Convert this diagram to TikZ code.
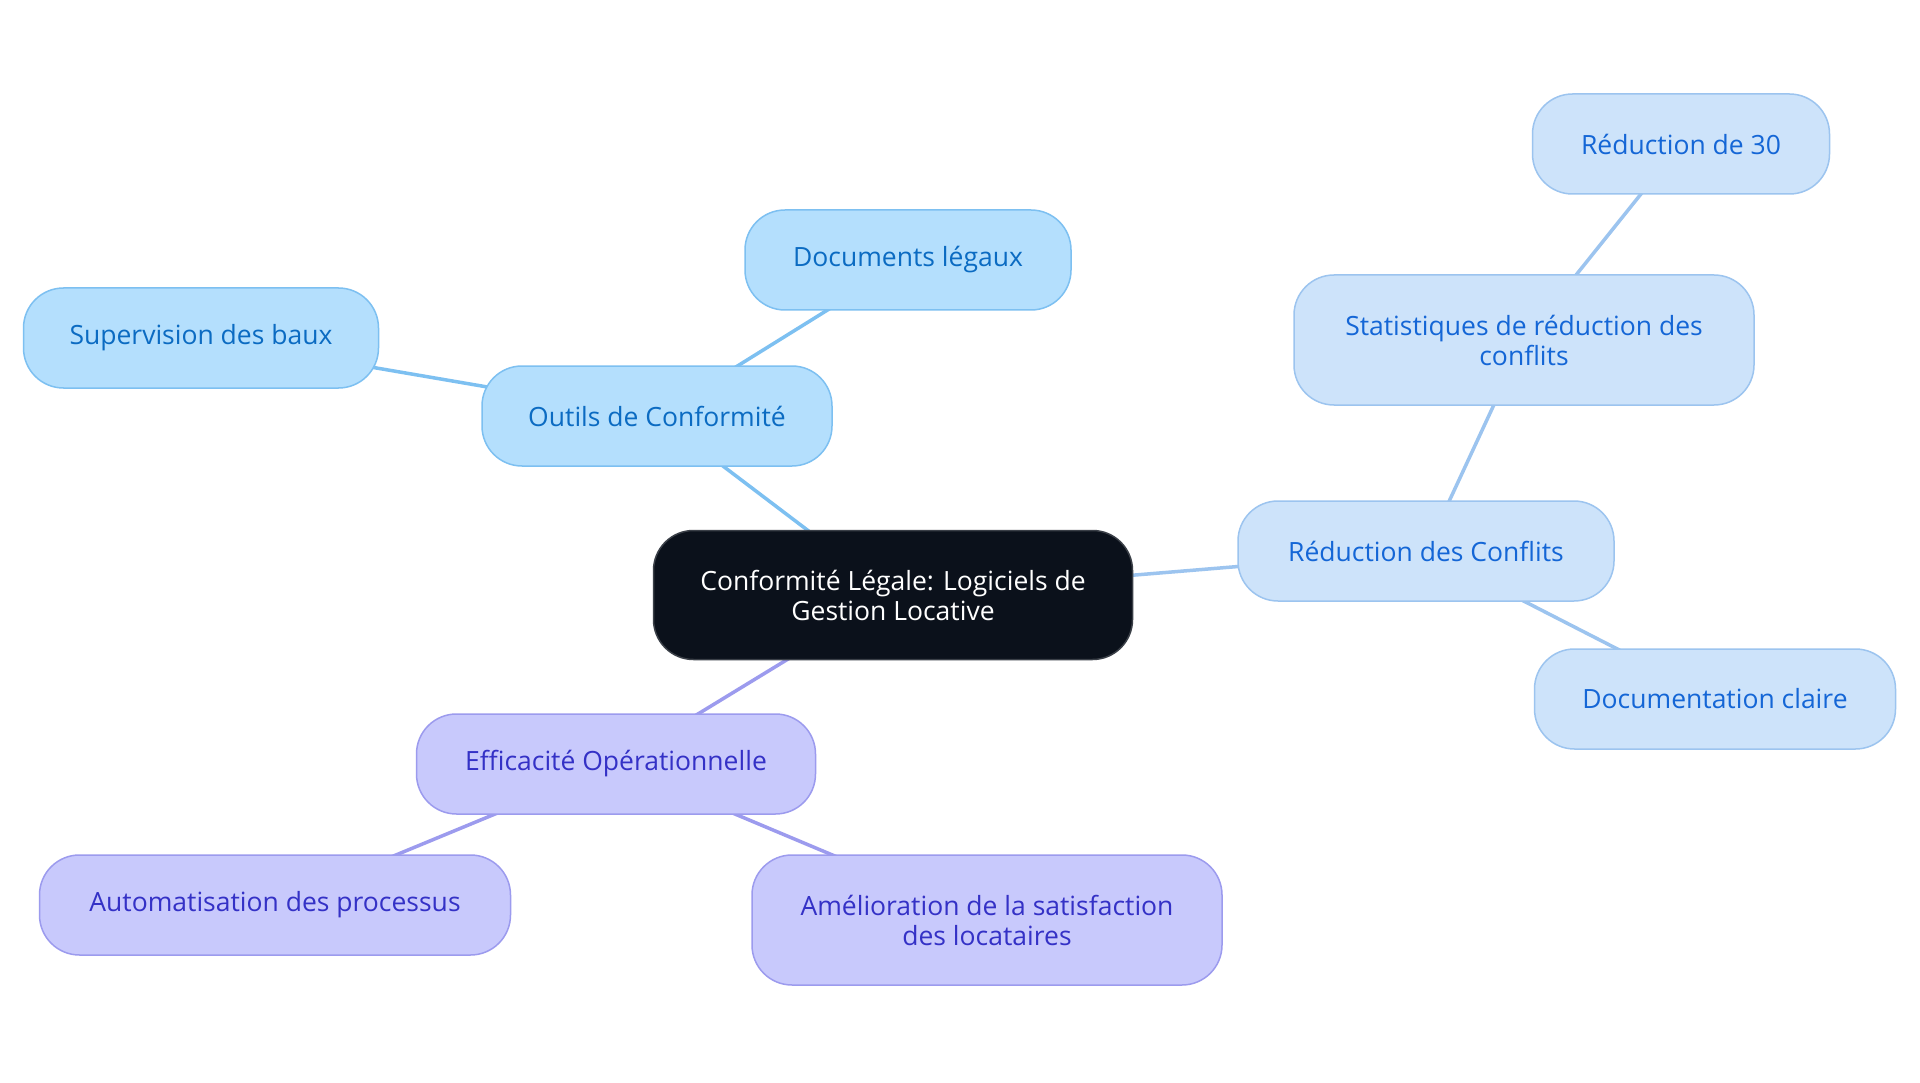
\documentclass[tikz,border=0pt]{standalone}
\usepackage{fontspec}
\setmainfont{Open Sans}
\usetikzlibrary{backgrounds}
\definecolor{rootfill}{HTML}{0B111B}
\definecolor{rootdraw}{HTML}{3A3F47}
\definecolor{skyfill}{HTML}{B4DFFD}
\definecolor{skydraw}{HTML}{7DC0F1}
\definecolor{skytext}{HTML}{0B6BC2}
\definecolor{bluefill}{HTML}{CDE3FA}
\definecolor{bluedraw}{HTML}{9CC4EF}
\definecolor{bluetext}{HTML}{1466D6}
\definecolor{purpfill}{HTML}{C8C9FC}
\definecolor{purpdraw}{HTML}{9C9BEE}
\definecolor{purptext}{HTML}{3431C6}
\tikzset{
  box/.style={rectangle, rounded corners=40pt, line width=1.5pt, align=center,
    font=\fontsize{26.5}{30}\selectfont, inner sep=0pt},
  rootbox/.style={box, fill=rootfill, draw=rootdraw, text=white},
  skybox/.style={box, fill=skyfill, draw=skydraw, text=skytext},
  bluebox/.style={box, fill=bluefill, draw=bluedraw, text=bluetext},
  purpbox/.style={box, fill=purpfill, draw=purpdraw, text=purptext},
  skyedge/.style={draw=skydraw, line width=3.5pt},
  blueedge/.style={draw=bluedraw, line width=3.5pt},
  purpedge/.style={draw=purpdraw, line width=3.5pt}
}
\begin{document}
\begin{tikzpicture}[x=1pt,y=-1pt]
\useasboundingbox (0,0) rectangle (1920,1083);
\node[rootbox, minimum width=479pt, minimum height=129pt] (root) at (893,595) {Conformité Légale: Logiciels de\\Gestion Locative};
\node[skybox, minimum width=350pt, minimum height=100pt] (outils) at (657,416) {Outils de Conformité};
\node[skybox, minimum width=326pt, minimum height=100pt] (docs) at (908,260) {Documents légaux};
\node[skybox, minimum width=355pt, minimum height=100pt] (superv) at (201,338) {Supervision des baux};
\node[bluebox, minimum width=376pt, minimum height=100pt] (reduc) at (1426,551) {Réduction des Conflits};
\node[bluebox, minimum width=460pt, minimum height=130pt] (stats) at (1524,340) {Statistiques de réduction des\\conflits};
\node[bluebox, minimum width=297pt, minimum height=100pt] (trente) at (1681,144) {Réduction de 30};
\node[bluebox, minimum width=361pt, minimum height=100pt] (docclaire) at (1715,699) {Documentation claire};
\node[purpbox, minimum width=399pt, minimum height=100pt] (effic) at (616,764) {Efficacité Opérationnelle};
\node[purpbox, minimum width=471pt, minimum height=100pt] (auto) at (275,905) {Automatisation des processus};
\node[purpbox, minimum width=470pt, minimum height=130pt] (amelio) at (987,920) {Amélioration de la satisfaction\\des locataires};
\begin{scope}[on background layer]
\fill[white] (0,0) rectangle (1920,1083);
\draw[skyedge] (root.center) -- (outils.center);
\draw[skyedge] (outils.center) -- (docs.center);
\draw[skyedge] (outils.center) -- (superv.center);
\draw[blueedge] (root.center) -- (reduc.center);
\draw[blueedge] (reduc.center) -- (stats.center);
\draw[blueedge] (stats.center) -- (trente.center);
\draw[blueedge] (reduc.center) -- (docclaire.center);
\draw[purpedge] (root.center) -- (effic.center);
\draw[purpedge] (effic.center) -- (auto.center);
\draw[purpedge] (effic.center) -- (amelio.center);
\end{scope}
\end{tikzpicture}
\end{document}
